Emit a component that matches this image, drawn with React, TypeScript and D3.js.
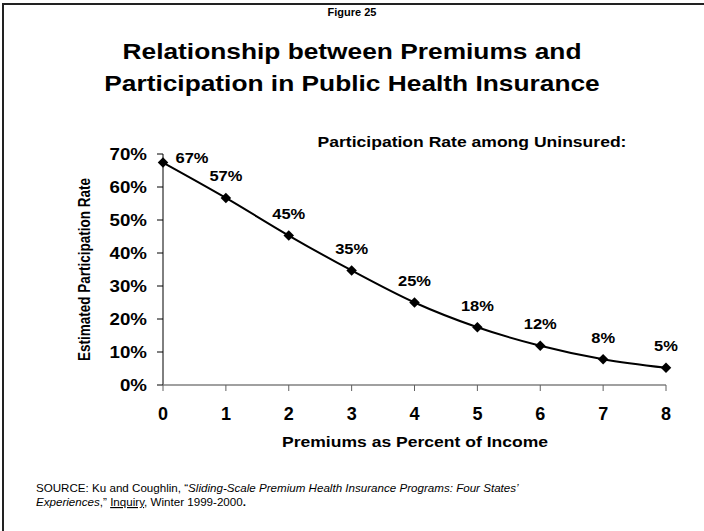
import * as d3 from "d3";
import React from "react";

const premiums = [0, 1, 2, 3, 4, 5, 6, 7, 8];
const participation = [0.674, 0.567, 0.453, 0.347, 0.25, 0.175, 0.119, 0.078, 0.052];
const pointLabels = ["67%", "57%", "45%", "35%", "25%", "18%", "12%", "8%", "5%"];
const yTicks = [0, 0.1, 0.2, 0.3, 0.4, 0.5, 0.6, 0.7];

const W = 704;
const H = 531;
const font = "'Liberation Sans', Arial, sans-serif";
const SX = 1.17; // the reference text is a little wider than plain Arial

type TProps = {
  x: number;
  y: number;
  size: number;
  anchor?: "start" | "middle" | "end";
  sx?: number;
  bold?: boolean;
  children: React.ReactNode;
};

const T = ({ x, y, size, anchor = "middle", sx = SX, bold = true, children }: TProps) => (
  <text
    transform={`translate(${x},${y}) scale(${sx},1)`}
    textAnchor={anchor}
    fontSize={size}
    fontWeight={bold ? "bold" : "normal"}
  >
    {children}
  </text>
);

const App: React.FC = () => {
  const x = d3.scaleLinear().domain([0, 8]).range([163, 666]);
  const y = d3.scaleLinear().domain([0, 0.7]).range([385, 154]);

  const line = d3
    .line<number>()
    .x((_, i) => x(premiums[i]))
    .y((d) => y(d))
    .curve(d3.curveCardinal.tension(0));

  const diamond = d3.symbol(d3.symbolDiamond2, 70)();

  return (
    <svg
      width={W}
      height={H}
      style={{ position: "absolute", left: 0, top: 0, background: "#fff" }}
      fontFamily={font}
    >
      {/* frame */}
      <line x1={3} x2={W} y1={4} y2={4} stroke="#222" strokeWidth={2} />
      <line x1={3} x2={3} y1={3} y2={H} stroke="#222" strokeWidth={2} />

      <T x={352} y={16} size={10} sx={1.1}>Figure 25</T>
      <T x={352} y={59} size={22.5}>Relationship between Premiums and</T>
      <T x={352} y={91} size={22.5}>Participation in Public Health Insurance</T>
      <T x={472} y={147} size={15}>Participation Rate among Uninsured:</T>

      {/* y axis */}
      <line x1={x(0)} x2={x(0)} y1={y(0.7)} y2={y(0)} stroke="#000" />
      {yTicks.map((t) => (
        <g key={t}>
          <line x1={x(0) - 6} x2={x(0)} y1={y(t)} y2={y(t)} stroke="#000" />
          <T x={147} y={y(t) + 5.7} size={16} anchor="end">
            {d3.format(".0%")(t)}
          </T>
        </g>
      ))}
      <text
        transform={`translate(90,${y(0.35)}) scale(${SX},1) rotate(-90)`}
        textAnchor="middle"
        fontSize={13.5}
        fontWeight="bold"
      >
        Estimated Participation Rate
      </text>

      {/* x axis */}
      <line x1={x(0)} x2={x(8)} y1={y(0)} y2={y(0)} stroke="#808080" strokeWidth={1.3} />
      {premiums.map((p) => (
        <g key={p}>
          <line x1={x(p)} x2={x(p)} y1={y(0)} y2={y(0) + 6} stroke="#606060" />
          <T x={x(p)} y={420} size={18} sx={1}>
            {p}
          </T>
        </g>
      ))}
      <T x={415} y={447} size={15}>Premiums as Percent of Income</T>

      {/* series */}
      <path d={line(participation) ?? ""} fill="none" stroke="#000" strokeWidth={2} />
      {participation.map((v, i) => (
        <path key={i} d={diamond} transform={`translate(${x(premiums[i])},${y(v)})`} fill="#000" />
      ))}
      {participation.map((v, i) => (
        <T
          key={i}
          x={x(premiums[i]) + (i === 0 ? 29 : 0)}
          y={y(v) - (i === 0 ? -0.5 : 16.5)}
          size={15}
          sx={1.1}
        >
          {pointLabels[i]}
        </T>
      ))}

      {/* source */}
      <g fontSize={11.6}>
        <text x={36} y={492}>
          SOURCE: Ku and Coughlin, “
          <tspan fontStyle="italic">
            Sliding-Scale Premium Health Insurance Programs: Four States’
          </tspan>
        </text>
        <text x={36} y={506}>
          <tspan fontStyle="italic">Experiences</tspan>,”{" "}
          <tspan textDecoration="underline">Inquiry</tspan>, Winter 1999-2000
          <tspan fontWeight="bold">.</tspan>
        </text>
      </g>
    </svg>
  );
};

export default App;
